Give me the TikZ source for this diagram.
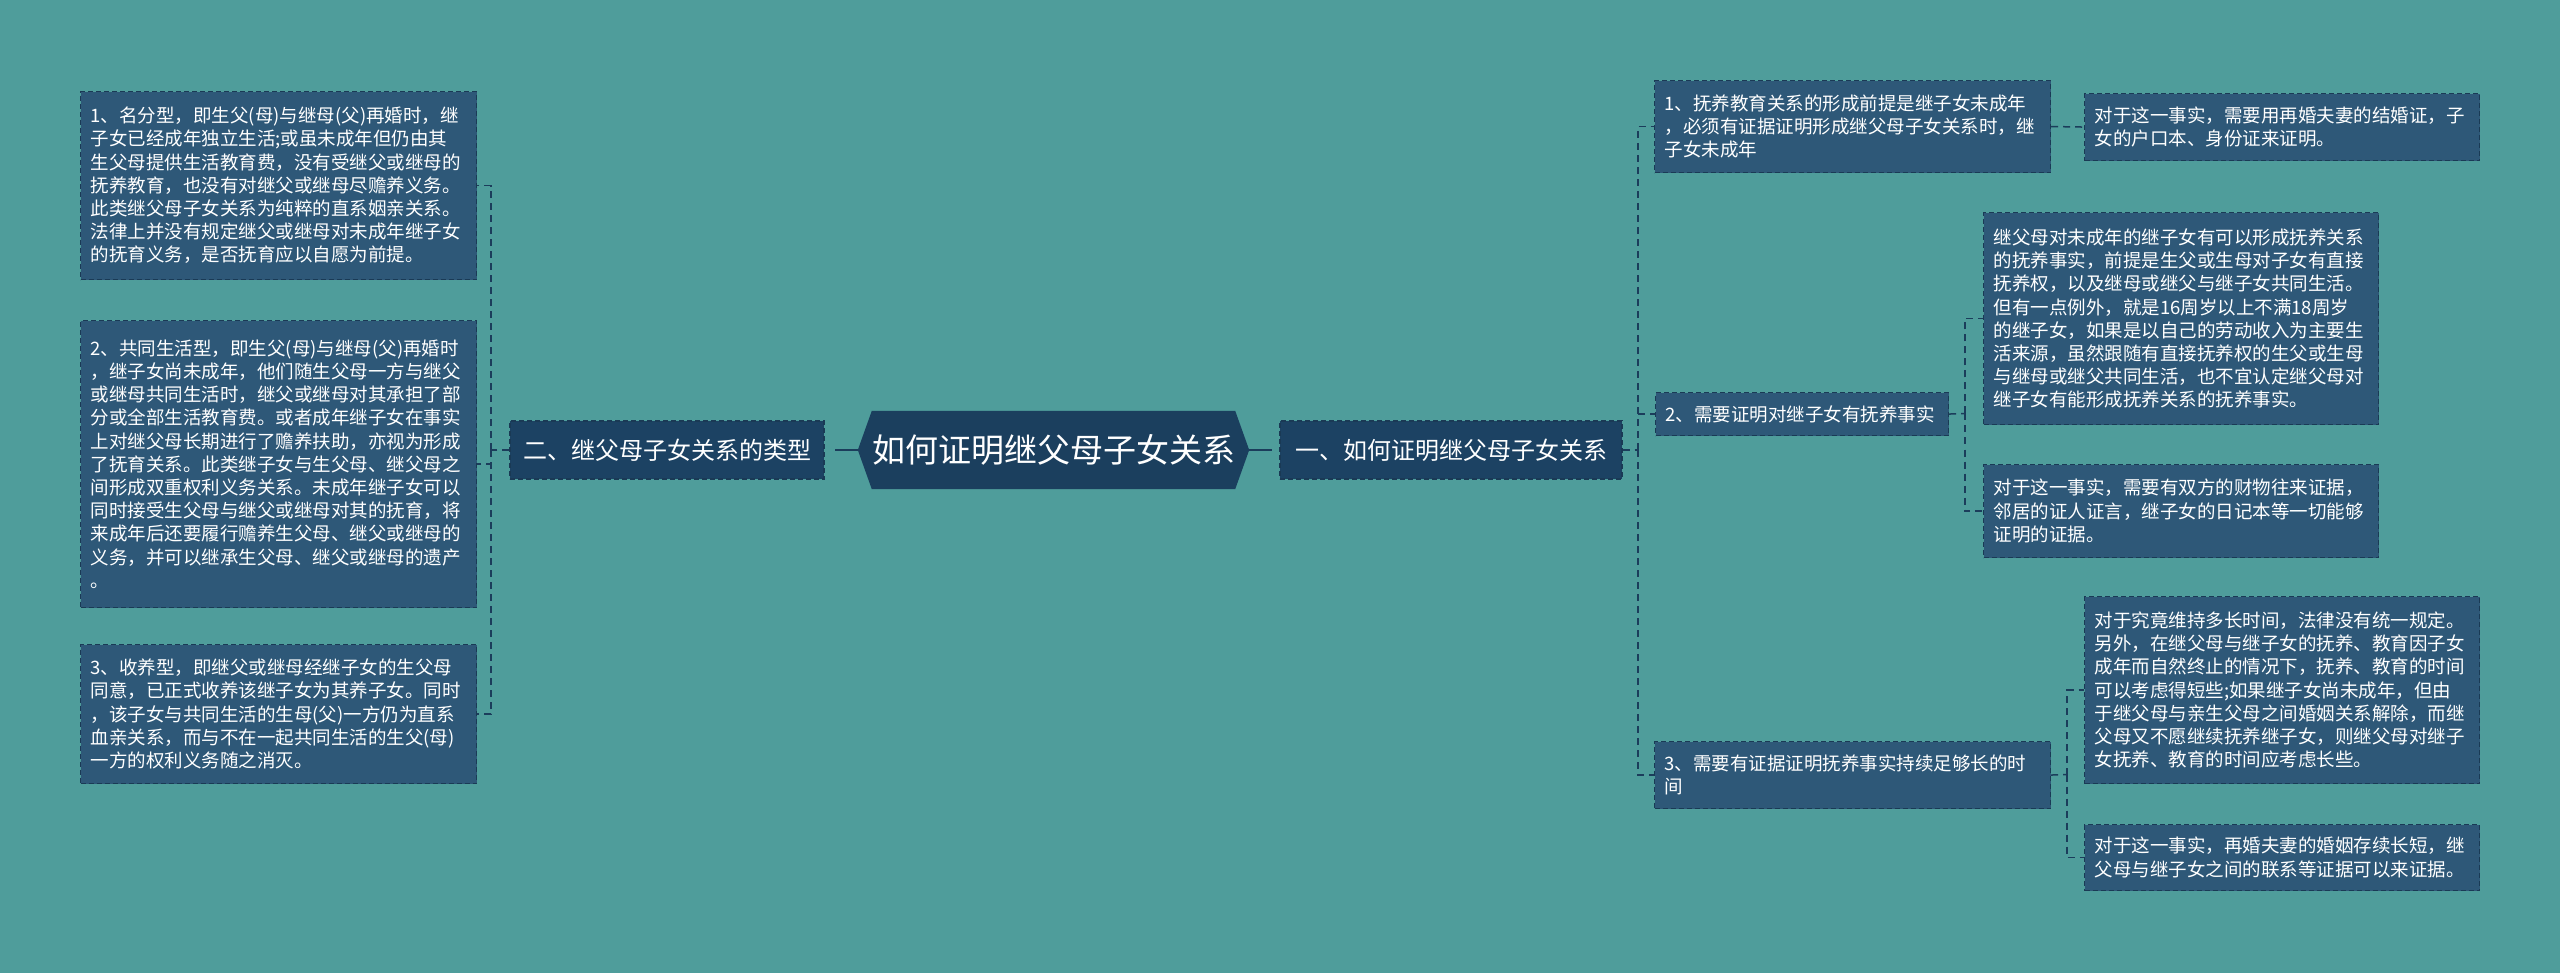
\documentclass[tikz,border=0pt]{standalone}
\usepackage{fontspec}
\newfontfamily\cjk{Noto Sans CJK SC}
\definecolor{bgc}{HTML}{4F9D9B}
\definecolor{leafc}{HTML}{2E5878}
\definecolor{midc}{HTML}{1C4263}
\definecolor{hubc}{HTML}{1B3F5E}
\definecolor{bordc}{HTML}{1A3A55}
\definecolor{linec}{HTML}{1B3D5B}
\pgfdeclarelayer{bg}
\pgfsetlayers{bg,main}
\begin{document}
\begin{tikzpicture}[x=1pt,y=-1pt,
  leaf/.style={draw=bordc, dash pattern=on 5pt off 3pt, line width=1.1pt, fill=leafc, text=white,
    font=\cjk\fontsize{18.5}{23.2}\selectfont, align=left, inner xsep=10pt, inner ysep=0pt, anchor=north west},
  mid/.style={draw=bordc, dash pattern=on 5pt off 3pt, line width=1.1pt, fill=midc, text=white,
    font=\cjk\fontsize{24}{28}\selectfont, inner sep=0pt, minimum height=58pt},
  conn/.style={draw=linec, line width=1.5pt, dash pattern=on 7pt off 5pt},
  mainconn/.style={draw=linec, line width=2pt, dash pattern=on 23pt off 20pt}]
\begin{pgfonlayer}{bg}
\fill[bgc] (0,0) rectangle (2560,973);
\end{pgfonlayer}
\useasboundingbox (0,0) rectangle (2560,973);

% hub
\node (c) [minimum width=391pt, minimum height=78pt, inner sep=0pt, text=white,
  font=\cjk\fontsize{33}{40}\selectfont] at (1053.5,450) {如何证明继父母子女关系};
\begin{pgfonlayer}{bg}
\fill[hubc] (c.west) -- ([xshift=14pt]c.north west) -- ([xshift=-14pt]c.north east) -- (c.east)
  -- ([xshift=-14pt]c.south east) -- ([xshift=14pt]c.south west) -- cycle;
\end{pgfonlayer}

% level 1
\node (n2) [mid, minimum width=314pt] at (667,450) {二、继父母子女关系的类型};
\node (n1) [mid, minimum width=342pt] at (1451,450) {一、如何证明继父母子女关系};

% left leaves
\node (L1) [leaf, text width=376pt, minimum height=188pt] at (80,91) {1、名分型，即生父(母)与继母(父)再婚时，继\\子女已经成年独立生活;或虽未成年但仍由其\\生父母提供生活教育费，没有受继父或继母的\\抚养教育，也没有对继父或继母尽赡养义务。\\此类继父母子女关系为纯粹的直系姻亲关系。\\法律上并没有规定继父或继母对未成年继子女\\的抚育义务，是否抚育应以自愿为前提。};
\node (L2) [leaf, text width=376pt, minimum height=287pt] at (80,320) {2、共同生活型，即生父(母)与继母(父)再婚时\\，继子女尚未成年，他们随生父母一方与继父\\或继母共同生活时，继父或继母对其承担了部\\分或全部生活教育费。或者成年继子女在事实\\上对继父母长期进行了赡养扶助，亦视为形成\\了抚育关系。此类继子女与生父母、继父母之\\间形成双重权利义务关系。未成年继子女可以\\同时接受生父母与继父或继母对其的抚育，将\\来成年后还要履行赡养生父母、继父或继母的\\义务，并可以继承生父母、继父或继母的遗产\\。};
\node (L3) [leaf, text width=376pt, minimum height=139pt] at (80,644) {3、收养型，即继父或继母经继子女的生父母\\同意，已正式收养该继子女为其养子女。同时\\，该子女与共同生活的生母(父)一方仍为直系\\血亲关系，而与不在一起共同生活的生父(母)\\一方的权利义务随之消灭。};

% right level 2
\node (R1) [leaf, text width=376pt, minimum height=92pt] at (1654,80) {1、抚养教育关系的形成前提是继子女未成年\\，必须有证据证明形成继父母子女关系时，继\\子女未成年};
\node (R2) [leaf, text width=273pt, minimum height=43pt] at (1655,392) {2、需要证明对继子女有抚养事实};
\node (R3) [leaf, text width=376pt, minimum height=67pt] at (1654,741) {3、需要有证据证明抚养事实持续足够长的时\\间};

% right level 3
\node (R1a) [leaf, text width=375pt, minimum height=67pt] at (2084,93) {对于这一事实，需要用再婚夫妻的结婚证，子\\女的户口本、身份证来证明。};
\node (R2a) [leaf, text width=375pt, minimum height=212pt] at (1983,212) {继父母对未成年的继子女有可以形成抚养关系\\的抚养事实，前提是生父或生母对子女有直接\\抚养权，以及继母或继父与继子女共同生活。\\但有一点例外，就是16周岁以上不满18周岁\\的继子女，如果是以自己的劳动收入为主要生\\活来源，虽然跟随有直接抚养权的生父或生母\\与继母或继父共同生活，也不宜认定继父母对\\继子女有能形成抚养关系的抚养事实。};
\node (R2b) [leaf, text width=375pt, minimum height=93pt] at (1983,464) {对于这一事实，需要有双方的财物往来证据，\\邻居的证人证言，继子女的日记本等一切能够\\证明的证据。};
\node (R3a) [leaf, text width=375pt, minimum height=187pt] at (2084,596) {对于究竟维持多长时间，法律没有统一规定。\\另外，在继父母与继子女的抚养、教育因子女\\成年而自然终止的情况下，抚养、教育的时间\\可以考虑得短些;如果继子女尚未成年，但由\\于继父母与亲生父母之间婚姻关系解除，而继\\父母又不愿继续抚养继子女，则继父母对继子\\女抚养、教育的时间应考虑长些。};
\node (R3b) [leaf, text width=375pt, minimum height=66pt] at (2084,824) {对于这一事实，再婚夫妻的婚姻存续长短，继\\父母与继子女之间的联系等证据可以来证据。};

% spines
\coordinate (lsp) at (491,450);
\coordinate (rsp) at (1638,450);
\coordinate (s2) at (1965,413.5);
\coordinate (s3) at (2067,774.5);

% connectors
\draw[mainconn] (c.west) -- (n2.east);
\draw[mainconn] (c.east) -- (n1.west);

\draw[conn] (n2.west) -- (lsp);
\draw[conn] (lsp) |- (L1.east);
\draw[conn] (lsp) |- (L2.east);
\draw[conn] (lsp) |- (L3.east);

\draw[conn] (n1.east) -- (rsp);
\draw[conn] (rsp) |- (R1.west);
\draw[conn] (rsp) |- (R2.west);
\draw[conn] (rsp) |- (R3.west);

\draw[conn] (R1.east) -- (R1a.west);

\draw[conn] (R2.east) -- (s2);
\draw[conn] (s2) |- (R2a.west);
\draw[conn] (s2) |- (R2b.west);

\draw[conn] (R3.east) -- (s3);
\draw[conn] (s3) |- (R3a.west);
\draw[conn] (s3) |- (R3b.west);
\end{tikzpicture}
\end{document}
